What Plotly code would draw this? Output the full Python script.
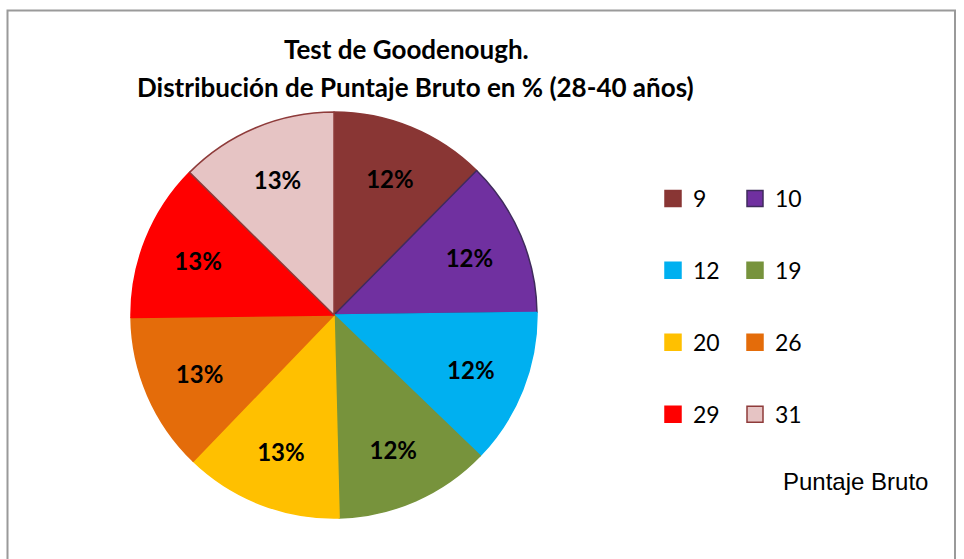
import plotly.graph_objects as go

# ---- data ----
labels = ["9", "10", "12", "19", "20", "26", "29", "31"]
values_pct = [12.4, 12.4, 12.4, 12.4, 12.6, 12.6, 12.6, 12.6]
colors = ["#893634", "#7030A0", "#00B0F0", "#77933C", "#FFC000", "#E46C0A", "#FF0000", "#E6C4C4"]
edge_colors = ["#893634", "#3F2B5C", "#00B0F0", "#77933C", "#FFC000", "#E46C0A", "#FF0000", "#8E3B3A"]
title_line1 = "Test de Goodenough."
title_line2 = "Distribución de Puntaje Bruto en % (28-40 años)"
series_name = "Puntaje Bruto"

W, H = 964, 559
FONT = "Lato"

fig = go.Figure()

fig.add_trace(go.Pie(
    labels=labels,
    values=values_pct,
    sort=False,
    direction="clockwise",
    rotation=0,
    marker=dict(colors=colors, line=dict(color=edge_colors, width=1.5)),
    texttemplate="%{percent:.0%}",
    textposition="inside",
    insidetextorientation="horizontal",
    textfont=dict(family=FONT, size=24, color="black", weight="bold"),
    domain=dict(x=[131 / W, 537 / W], y=[41 / H, 447 / H]),
    showlegend=False,
    name=series_name,
))

# legend entries (two columns) built from the same label/colour lists
for i, (lab, col, ec) in enumerate(zip(labels, colors, edge_colors)):
    fig.add_trace(go.Scatter(
        x=[None], y=[None], mode="markers",
        marker=dict(symbol="square", size=16, color=col, line=dict(color=ec, width=1.5)),
        name=lab, legendgroup=lab, showlegend=True,
        legend="legend" if i % 2 == 0 else "legend2",
        hoverinfo="skip",
    ))

legend_common = dict(
    xanchor="left", yanchor="top",
    font=dict(family=FONT, size=23, color="black"),
    tracegroupgap=39, bgcolor="rgba(0,0,0,0)", itemsizing="trace",
    orientation="v",
)

fig.update_layout(
    width=W, height=H,
    margin=dict(l=0, r=0, t=0, b=0),
    paper_bgcolor="white", plot_bgcolor="white",
    xaxis=dict(visible=False), yaxis=dict(visible=False),
    legend=dict(x=653 / W, y=1 - 177 / H, **legend_common),
    legend2=dict(x=735 / W, y=1 - 177 / H, **legend_common),
    annotations=[
        dict(text=title_line1, x=406 / W, y=1 - 49 / H, xref="paper", yref="paper",
             xanchor="center", yanchor="middle", showarrow=False,
             font=dict(family=FONT, size=26, color="black", weight="bold")),
        dict(text=title_line2, x=415 / W, y=1 - 87 / H, xref="paper", yref="paper",
             xanchor="center", yanchor="middle", showarrow=False,
             font=dict(family=FONT, size=26, color="black", weight="bold")),
        dict(text=series_name, x=855 / W, y=1 - 481 / H, xref="paper", yref="paper",
             xanchor="center", yanchor="middle", showarrow=False,
             font=dict(family="Liberation Sans", size=24, color="black")),
    ],
    shapes=[
        dict(type="rect", xref="paper", yref="paper",
             x0=7.5 / W, x1=955 / W, y0=-0.1, y1=1 - 10.5 / H,
             line=dict(color="#9A9A9A", width=2), fillcolor="rgba(0,0,0,0)", layer="below"),
    ],
)

fig.write_html("out.html", config={"displayModeBar": False},
               post_script="document.body.style.margin='0';")
